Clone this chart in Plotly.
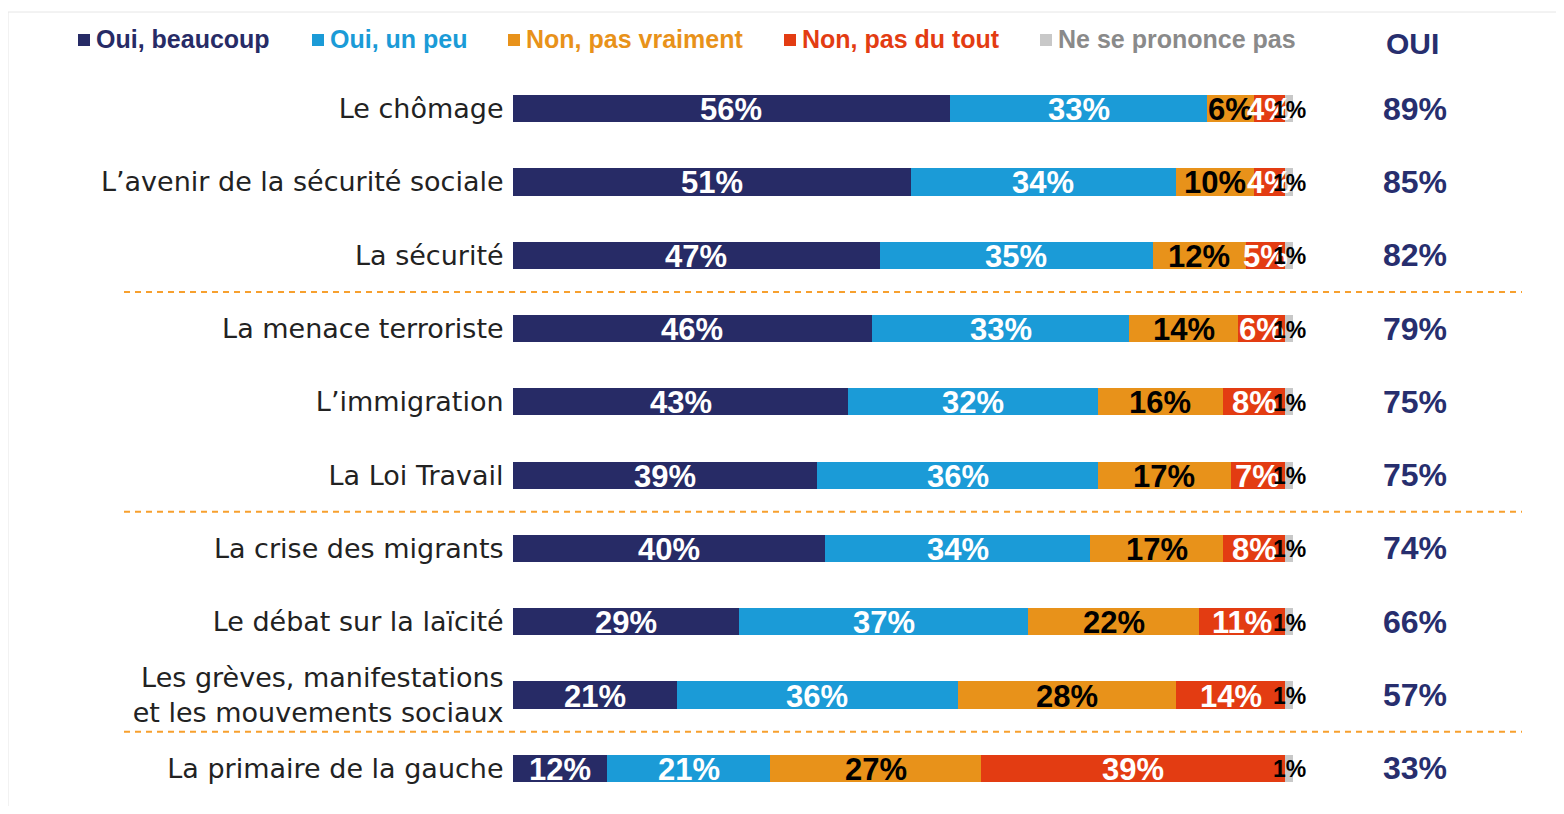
import plotly.graph_objects as go

# ---------------- data ----------------
categories = [
    "Le chômage",
    "L’avenir de la sécurité sociale",
    "La sécurité",
    "La menace terroriste",
    "L’immigration",
    "La Loi Travail",
    "La crise des migrants",
    "Le débat sur la laïcité",
    "Les grèves, manifestations<br>et les mouvements sociaux",
    "La primaire de la gauche",
]
series_names = ["Oui, beaucoup", "Oui, un peu", "Non, pas vraiment", "Non, pas du tout", "Ne se prononce pas"]
oui_beaucoup = [56, 51, 47, 46, 43, 39, 40, 29, 21, 12]
oui_un_peu = [33, 34, 35, 33, 32, 36, 34, 37, 36, 21]
non_pas_vraiment = [6, 10, 12, 14, 16, 17, 17, 22, 28, 27]
non_pas_du_tout = [4, 4, 5, 6, 8, 7, 8, 11, 14, 39]
nsp = [1, 1, 1, 1, 1, 1, 1, 1, 1, 1]
oui_total = [89, 85, 82, 79, 75, 75, 74, 66, 57, 33]
oui_header = "OUI"
separators_after = [2, 5, 8]

# ---------------- style ----------------
colors = ["#272B66", "#1B9BD7", "#E8921A", "#E33C12", "#C8C8C8"]
legend_text_colors = ["#272B66", "#1B9BD7", "#E8921A", "#E33C12", "#8A8A8A"]
label_colors = ["white", "white", "black", "white", "black"]
label_sizes = [31, 31, 31, 31, 23]

# page body margin offset (8px) compensated
OFF = 8
W, H = 1564 - 2 * OFF, 814 - 2 * OFF
# plot area in reference pixel coords
PX0, PX1 = 513, 1293
PY0, PY1 = 72.5, 805
L = PX0 - OFF
T = int(round(PY0 - OFF))
R = W - (PX1 - OFF)
B = H - int(round(PY1 - OFF))
PW, PH = W - L - R, H - T - B


def px_x(x):
    return (x - OFF - L) / PW


def px_y(y):
    return 1 - (y - OFF - T) / PH


series = [oui_beaucoup, oui_un_peu, non_pas_vraiment, non_pas_du_tout, nsp]
rows = list(range(len(categories)))

fig = go.Figure()
annotations = []
starts = [0] * len(categories)
for name, vals, col, lc, ls in zip(series_names, series, colors, label_colors, label_sizes):
    fig.add_trace(go.Bar(
        x=vals, y=rows, orientation="h", name=name,
        marker=dict(color=col, line=dict(width=0)),
        width=0.37, showlegend=False, hoverinfo="skip",
    ))
    for s, v, r in zip(starts, vals, rows):
        annotations.append(dict(
            text=f"<b>{v}%</b>", xref="x", yref="y", x=s + v / 2, y=r,
            xanchor="center", yanchor="middle", yshift=-1, showarrow=False,
            font=dict(family="Liberation Sans, Arial", size=ls, color=lc),
        ))
    starts = [s + v for s, v in zip(starts, vals)]

# OUI column
annotations.append(dict(
    text=f"<b>{oui_header}</b>", xref="paper", yref="paper",
    x=px_x(1412), y=px_y(43), xanchor="center", yanchor="middle", showarrow=False,
    font=dict(family="Liberation Sans, Arial", size=30, color="#272E6E"),
))
for r, v in zip(rows, oui_total):
    annotations.append(dict(
        text=f"<b>{v}%</b>", xref="paper", yref="y",
        x=px_x(1415), y=r, xanchor="center", yanchor="middle", showarrow=False,
        font=dict(family="Liberation Sans, Arial", size=32, color="#272E6E"),
    ))

# legend (manual)
legend_x = [78, 312, 508, 784, 1040]
shapes = []
for name, col, tcol, lx in zip(series_names, colors, legend_text_colors, legend_x):
    shapes.append(dict(
        type="rect", xref="paper", yref="paper",
        x0=px_x(lx), x1=px_x(lx + 12), y0=px_y(46), y1=px_y(34),
        fillcolor=col, line=dict(width=0),
    ))
    annotations.append(dict(
        text=f"<b>{name}</b>", xref="paper", yref="paper",
        x=px_x(lx + 16), y=px_y(39), xanchor="left", yanchor="middle", showarrow=False,
        font=dict(family="Liberation Sans, Arial", size=25, color=tcol),
    ))

# dashed separators
for s in separators_after:
    shapes.append(dict(
        type="line", xref="paper", yref="y",
        x0=px_x(124), x1=px_x(1522), y0=s + 0.5, y1=s + 0.5,
        line=dict(color="#F7A02E", width=2, dash="6px,5px"),
    ))

# faint frame
shapes.append(dict(
    type="rect", xref="paper", yref="paper",
    x0=px_x(8), x1=px_x(1600), y0=px_y(12), y1=px_y(900),
    line=dict(color="#E6E6E6", width=1), fillcolor="rgba(0,0,0,0)", layer="below",
))

fig.update_layout(
    width=W, height=H, barmode="stack",
    margin=dict(l=L, r=R, t=T, b=B, pad=0),
    paper_bgcolor="white", plot_bgcolor="white",
    xaxis=dict(range=[0, 100], visible=False, fixedrange=True),
    yaxis=dict(
        range=[len(categories) - 0.5, -0.5], autorange=False,
        tickmode="array", tickvals=rows, ticktext=categories,
        showgrid=False, zeroline=False, showline=False,
        ticks="outside", ticklen=3, tickcolor="rgba(0,0,0,0)",
        tickfont=dict(family="DejaVu Sans, Verdana", size=27, color="#222222"),
    ),
    annotations=annotations, shapes=shapes,
    showlegend=False,
)

fig.write_html("out.html")
